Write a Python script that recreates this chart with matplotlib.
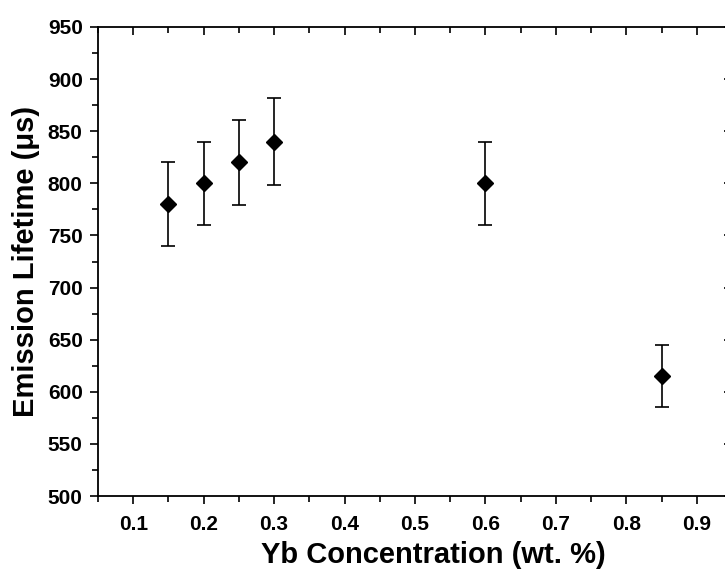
import matplotlib
matplotlib.use("Agg")
import matplotlib.pyplot as plt
from matplotlib.ticker import MultipleLocator

conc = [0.15, 0.20, 0.25, 0.30, 0.60, 0.85]
lifetime = [780, 800, 820, 840, 800, 615]
err = [40, 40, 41, 42, 40, 30]

xticks = [0.1, 0.2, 0.3, 0.4, 0.5, 0.6, 0.7, 0.8, 0.9]
yticks = [500, 550, 600, 650, 700, 750, 800, 850, 900, 950]

plt.rcParams['font.family'] = ['Liberation Sans', 'DejaVu Sans']

fig = plt.figure(figsize=(7.25, 5.75), dpi=100)
ax = fig.add_axes([98/725, 1-496/575, 634/725, 469/575])

ax.errorbar(conc, lifetime, yerr=err, fmt='D', color='black', markersize=8,
            ecolor='black', elinewidth=1.2, capsize=5, capthick=1.2)

ax.set_xlim(0.05, 0.95)
ax.set_ylim(500, 950)
ax.set_xticks(xticks)
ax.set_xticklabels([f"{v:.1f}" for v in xticks])
ax.set_yticks(yticks)
ax.set_yticklabels([str(v) for v in yticks])
ax.xaxis.set_minor_locator(MultipleLocator(0.05))
ax.yaxis.set_minor_locator(MultipleLocator(25))

for s in ax.spines.values():
    s.set_linewidth(1.3)

ax.tick_params(axis='x', which='both', bottom=True, top=True, direction='out',
               labelsize=15, width=1.2, pad=8)
ax.tick_params(axis='y', which='both', left=True, right=True, direction='out',
               labelsize=15, width=1.2, pad=5)
ax.tick_params(which='major', length=6)
ax.tick_params(which='minor', length=4)
# top and right ticks point inward
for t in ax.xaxis.get_major_ticks() + ax.xaxis.get_minor_ticks():
    t.tick2line.set_marker(3)  # TICKDOWN
for t in ax.yaxis.get_major_ticks() + ax.yaxis.get_minor_ticks():
    t.tick2line.set_marker(0)  # TICKLEFT

for lab in ax.get_xticklabels() + ax.get_yticklabels():
    lab.set_fontweight('bold')

ax.set_xlabel("Yb Concentration (wt. %)", fontsize=21, fontweight='bold')
ax.xaxis.set_label_coords((433 - 98) / 634, -0.095)
ax.set_ylabel("Emission Lifetime (μs)", fontsize=21, fontweight='bold', labelpad=6)

fig.savefig("out.png", dpi=100)
